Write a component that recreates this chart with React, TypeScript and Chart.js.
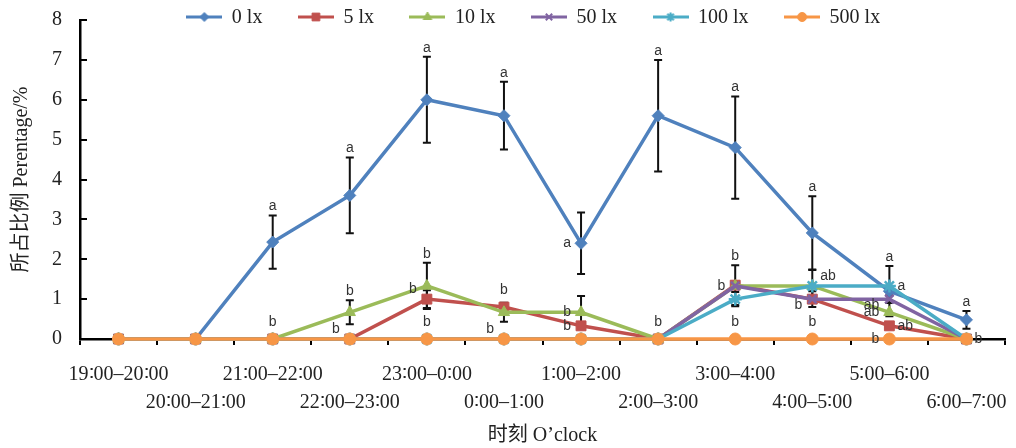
import React, { useEffect, useRef } from 'react';
import { Chart, registerables } from 'chart.js';
import { drawPoint } from 'chart.js/helpers';

Chart.register(...registerables);

// ---- data ----
const timeSlots = [
  '19∶00–20∶00', '20∶00–21∶00', '21∶00–22∶00', '22∶00–23∶00',
  '23∶00–0∶00', '0∶00–1∶00', '1∶00–2∶00', '2∶00–3∶00',
  '3∶00–4∶00', '4∶00–5∶00', '5∶00–6∶00', '6∶00–7∶00',
];
const seriesNames = ['0 lx', '5 lx', '10 lx', '50 lx', '100 lx', '500 lx'];

const lx0 = [0, 0, 2.43, 3.6, 6.0, 5.6, 2.4, 5.6, 4.8, 2.66, 1.2, 0.48];
const lx5 = [0, 0, 0, 0, 1.0, 0.8, 0.33, 0, 1.35, 1.0, 0.33, 0];
const lx10 = [0, 0, 0, 0.67, 1.33, 0.67, 0.67, 0, 1.33, 1.33, 0.67, 0];
const lx50 = [0, 0, 0, 0, 0, 0, 0, 0, 1.33, 1.0, 1.0, 0];
const lx100 = [0, 0, 0, 0, 0, 0, 0, 0, 1.0, 1.33, 1.33, 0];
const lx500 = [0, 0, 0, 0, 0, 0, 0, 0, 0, 0, 0, 0];

const err0 = [0, 0, 0.67, 0.95, 1.08, 0.85, 0.77, 1.4, 1.28, 0.92, 0.63, 0.22];
const err5 = [0, 0, 0, 0, 0.22, 0.1, 0, 0, 0.5, 0.2, 0, 0];
const err10 = [0, 0, 0, 0.3, 0.58, 0.24, 0.41, 0, 0, 0, 0, 0];
const err50 = [0, 0, 0, 0, 0, 0, 0, 0, 0, 0, 0.1, 0];
const err100 = [0, 0, 0, 0, 0, 0, 0, 0, 0.18, 0.4, 0, 0];
const err500 = [0, 0, 0, 0, 0, 0, 0, 0, 0, 0, 0, 0];

const sig0 = [null, null, 'a', 'a', 'a', 'a', 'a', 'a', 'a', 'a', 'a', 'a'];
const sig5 = [null, null, 'b', 'b', 'b', 'b', 'b', null, 'b', 'b', 'ab', null];
const sig10 = [null, null, null, 'b', 'b', null, 'b', null, null, null, 'ab', null];
const sig50 = [null, null, null, null, null, null, null, null, 'b', null, 'ab', null];
const sig100 = [null, null, null, null, null, null, null, null, null, 'ab', 'a', null];
const sig500 = [null, null, null, null, 'b', 'b', null, 'b', 'b', 'b', 'b', 'b'];

// letter placement codes (t = above, l = left, r = right, u/d = nudge)
const place0 = ['', '', 't', 't', 't', 't', 'l', 't', 't', 't', 't', 't'];
const place5 = ['', '', 't', 'lu', 'lu', 't', 'l', '', 't', 'ld', 'r', ''];
const place10 = ['', '', '', 't', 't', '', 'l', '', '', '', 'l', ''];
const place50 = ['', '', '', '', '', '', '', '', 'l', '', 'ld', ''];
const place100 = ['', '', '', '', '', '', '', '', '', 'ru', 'r', ''];
const place500 = ['', '', '', '', 't', 'lu', '', 't', 't', 't', 'l', 'r'];

const yMin = 0;
const yMax = 8;
const yStep = 1;

// ---- styles ----
const colors = ['#4F81BD', '#C0504D', '#9BBB59', '#8064A2', '#4BACC6', '#F79646'];
const pointStyles = ['rectRot', 'rect', 'triangle', 'crossRot', 'star', 'circle'];
const pointRadii = [6, 7, 6.5, 6, 6.5, 6];
const pointBorders = [1, 1, 1, 2.5, 2.5, 1];
const legendRadii = [4.5, 5.5, 5, 4.5, 4.5, 4.5];

const allValues = [lx0, lx5, lx10, lx50, lx100, lx500];
const allErrors = [err0, err5, err10, err50, err100, err500];
const allSig = [sig0, sig5, sig10, sig50, sig100, sig500];
const allPlace = [place0, place5, place10, place50, place100, place500];

const SERIF = '"Liberation Serif", "Times New Roman", "Noto Sans CJK SC", serif';
const TICK_SERIF = '"Liberation Serif", "DejaVu Serif", serif';
const SANS = '"Liberation Sans", Arial, sans-serif';

const errorBarPlugin = {
  id: 'errorBars',
  beforeDatasetsDraw(chart: any) {
    const ctx = chart.ctx;
    const y = chart.scales.y;
    ctx.save();
    ctx.strokeStyle = '#111';
    ctx.lineWidth = 2;
    allErrors.forEach((errs, di) => {
      const meta = chart.getDatasetMeta(di);
      errs.forEach((e, i) => {
        if (!e) return;
        const pt = meta.data[i];
        const v = allValues[di][i];
        const yt = y.getPixelForValue(v + e);
        const yb = y.getPixelForValue(Math.max(v - e, 0));
        ctx.beginPath();
        ctx.moveTo(pt.x, yt);
        ctx.lineTo(pt.x, yb);
        ctx.moveTo(pt.x - 4, yt);
        ctx.lineTo(pt.x + 4, yt);
        ctx.moveTo(pt.x - 4, yb);
        ctx.lineTo(pt.x + 4, yb);
        ctx.stroke();
      });
    });
    ctx.restore();
  },
  afterDatasetsDraw(chart: any) {
    const ctx = chart.ctx;
    const y = chart.scales.y;
    ctx.save();
    ctx.fillStyle = '#333';
    ctx.font = '14px ' + SANS;
    ctx.textBaseline = 'middle';
    allSig.forEach((sigs, di) => {
      const meta = chart.getDatasetMeta(di);
      sigs.forEach((s, i) => {
        if (!s) return;
        const pt = meta.data[i];
        const v = allValues[di][i];
        const e = allErrors[di][i];
        const p = allPlace[di][i];
        let tx = pt.x;
        let ty = pt.y;
        if (p[0] === 't') {
          ctx.textAlign = 'center';
          const top = e ? y.getPixelForValue(v + e) : pt.y - 8;
          ty = Math.min(top, pt.y - 8) - 9;
        } else if (p[0] === 'l') {
          ctx.textAlign = 'right';
          tx = pt.x - 10;
        } else {
          ctx.textAlign = 'left';
          tx = pt.x + 8;
        }
        if (p[1] === 'u') ty -= 10;
        if (p[1] === 'd') ty += 6;
        ctx.fillText(s, tx, ty);
      });
    });
    ctx.restore();
  },
};

const legendShiftPlugin = {
  id: 'legendShift',
  afterInit(chart: any) {
    if (chart.legend) chart.legend.isHorizontal = () => true;
  },
  afterLayout(chart: any) {
    const lg = chart.legend;
    if (!lg) return;
    const pad = lg.options.labels.padding;
    const dy = 18 - (lg.top + pad + 10);
    lg.top += dy;
    lg.bottom += dy;
    lg.left += 71;
    lg.right += 71;
  },
};

function makeIcon(i: number) {
  const c = document.createElement('canvas');
  c.width = 36;
  c.height = 14;
  const ctx = c.getContext('2d') as CanvasRenderingContext2D;
  ctx.strokeStyle = colors[i];
  ctx.fillStyle = colors[i];
  ctx.lineWidth = 3;
  ctx.beginPath();
  ctx.moveTo(0, 6);
  ctx.lineTo(36, 6);
  ctx.stroke();
  ctx.lineWidth = pointBorders[i] > 1 ? 2 : 1;
  drawPoint(ctx, { pointStyle: pointStyles[i], rotation: 0, radius: legendRadii[i], borderWidth: ctx.lineWidth } as any, 18, 6);
  return c;
}

export default function App() {
  const canvasRef = useRef<HTMLCanvasElement>(null);

  useEffect(() => {
    if (!canvasRef.current) return;
    const icons = colors.map((_, i) => makeIcon(i));
    const datasets = allValues.map((vals, i) => ({
      label: seriesNames[i],
      data: vals,
      borderColor: colors[i],
      backgroundColor: colors[i],
      borderWidth: 3.5,
      pointStyle: pointStyles[i],
      pointRadius: pointRadii[i],
      pointHoverRadius: pointRadii[i],
      pointBorderWidth: pointBorders[i],
      pointBorderColor: colors[i],
      pointBackgroundColor: colors[i],
      tension: 0,
      clip: false as any,
      order: allValues.length - 1 - i,
    }));

    const chart = new Chart(canvasRef.current, {
      type: 'line',
      data: { labels: timeSlots, datasets },
      plugins: [errorBarPlugin, legendShiftPlugin],
      options: {
        animation: false,
        responsive: true,
        maintainAspectRatio: false,
        layout: { padding: { top: 20, right: 11, left: 0, bottom: 0 } },
        font: { family: SERIF },
        color: '#222',
        plugins: {
          tooltip: { enabled: false },
          legend: {
            position: 'chartArea' as any,
            align: 'center',
            labels: {
              usePointStyle: true,
              pointStyleWidth: 35,
              padding: 36,
              color: '#222',
              font: { family: SERIF, size: 20 },
              generateLabels: (c: any) =>
                c.data.datasets.map((ds: any, i: number) => ({
                  text: ds.label,
                  pointStyle: icons[i],
                  fillStyle: colors[i],
                  strokeStyle: colors[i],
                  lineWidth: 0,
                  hidden: false,
                  datasetIndex: i,
                  fontColor: '#222',
                })),
            },
          },
        },
        scales: {
          x: {
            type: 'category',
            offset: true,
            afterFit: (s: any) => {
              s.height = 109;
              s.paddingLeft = 0;
              s.paddingRight = 0;
            },
            border: { display: true, color: '#000', width: 2.5 },
            grid: { offset: true, drawOnChartArea: false, drawTicks: true, tickLength: 6, color: '#000', lineWidth: 2 },
            ticks: {
              autoSkip: false,
              maxRotation: 0,
              minRotation: 0,
              padding: 16,
              color: '#222',
              font: { family: TICK_SERIF, size: 20, lineHeight: 1.4 },
              callback: (_v: any, idx: number) => (idx % 2 === 0 ? timeSlots[idx] : ['', timeSlots[idx]]),
            },
            title: {
              display: true,
              text: '时刻 O’clock',
              color: '#222',
              font: { family: SERIF, size: 20, lineHeight: 1.2 },
              padding: { top: 0, bottom: 0 },
            },
          },
          y: {
            min: yMin,
            max: yMax,
            afterFit: (s: any) => {
              s.width = 80;
              s.paddingTop = 0;
              s.paddingBottom = 0;
            },
            border: { display: true, color: '#000', width: 2.5 },
            grid: { drawOnChartArea: false, drawTicks: true, tickLength: -7, color: '#000', lineWidth: 2 },
            ticks: {
              stepSize: yStep,
              padding: 25,
              color: '#222',
              font: { family: SERIF, size: 20 },
            },
            title: {
              display: true,
              text: '所占比例 Perentage/%',
              color: '#222',
              font: { family: SERIF, size: 20, lineHeight: 1.2 },
              padding: { top: 10, bottom: 4 },
            },
          },
        },
      },
    });
    return () => chart.destroy();
  }, []);

  return (
    <div style={{ position: 'fixed', left: 0, top: 0, width: 1016, height: 448, background: '#fff' }}>
      <canvas ref={canvasRef} />
    </div>
  );
}
